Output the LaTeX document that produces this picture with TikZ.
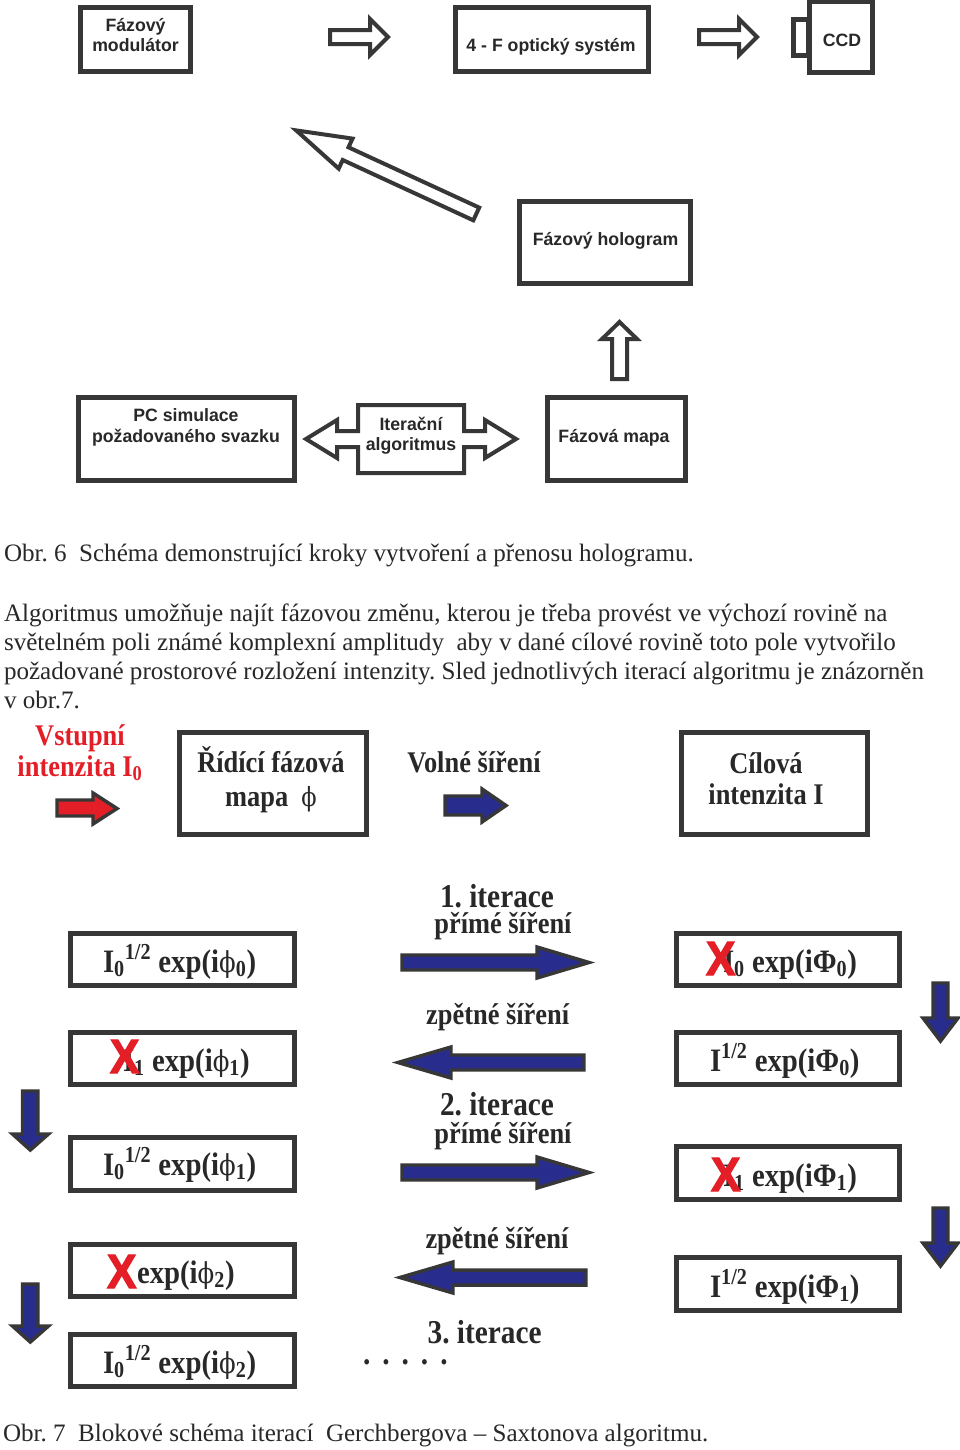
\documentclass[tikz,border=0pt]{standalone}
\usepackage{fontspec}
\setmainfont{Liberation Serif}
\newfontfamily\bodyf{Liberation Serif}[FakeStretch=1.0]
\newfontfamily\boldf{Liberation Serif}[FakeStretch=0.88]
\newfontfamily\sansf{Liberation Sans}[FakeStretch=0.99]
\newfontfamily\xf{Liberation Sans}[FakeStretch=0.92, FakeBold=2.5]
\newfontfamily\phif{DejaVu Serif}[FakeStretch=0.85, Scale=0.88]
\newcommand\vphi{{\phif\mdseries ϕ}}
\definecolor{dg}{RGB}{55,55,55}
\definecolor{tg}{RGB}{40,40,40}
\definecolor{xred}{RGB}{228,30,38}
\definecolor{ablue}{RGB}{40,44,140}
\newcommand\fsBody{\fontsize{18.8}{22}\selectfont}
\newcommand\fsSans{\fontsize{13.4}{16}\selectfont}
\newcommand\fsHead{\fontsize{22.5}{26}\selectfont}
\newcommand\fsIter{\fontsize{25}{29}\selectfont}
\newcommand\fsForm{\fontsize{24.5}{29}\selectfont}
\newcommand\fsX{\fontsize{36}{40}\selectfont}
\tikzset{
  pbox/.style 2 args={draw=dg, line width=3.75pt, inner sep=0pt, outer sep=0pt,
     minimum width=#1*0.75pt, minimum height=#2*0.75pt},
  hollow/.style={draw=dg, fill=white, line width=3pt, line join=miter},
  bluearr/.style={draw=dg, fill=ablue, line width=2.6pt, line join=miter},
  redarr/.style={draw=dg, fill=xred, line width=2.6pt, line join=miter},
  lbl/.style={inner sep=0pt, outer sep=0pt, anchor=base, text=tg},
  sanslbl/.style={lbl, font=\sansf\bfseries\fsSans},
  bodylbl/.style={lbl, anchor=base west, font=\bodyf\fsBody},
  headlbl/.style={lbl, font=\boldf\bfseries\fsHead},
  iterlbl/.style={lbl, font=\boldf\bfseries\fsIter},
  formlbl/.style={lbl, anchor=base west, font=\boldf\bfseries\fsForm},
  xmark/.style={inner sep=0pt, outer sep=0pt, anchor=base west, text=xred, font=\xf\bfseries\fsX}
}
\frenchspacing
\begin{document}
\begin{tikzpicture}[x=0.75pt,y=-0.75pt]
\useasboundingbox (0,0) rectangle (960,1450);
\fill[white] (0,0) rectangle (960,1450);

% ---------- Obr. 6 ----------
\node[pbox={110}{64}] (mod) at (135.5,39.5) {};
\node[sanslbl] (modA) at (135.5,31) {Fázový};
\node[sanslbl] (modB) at (135.5,51) {modulátor};

\draw[hollow] (330,30) -- (370,30) -- (370,19) -- (388,37) -- (370,55) -- (370,44) -- (330,44) -- cycle;

\node[pbox={193}{64}] (fourf) at (552,39.5) {};
\node[sanslbl] (fourfT) at (551,51.5) {4 - F optický systém};

\draw[hollow] (699,30) -- (739,30) -- (739,19) -- (757,37) -- (739,55) -- (739,44) -- (699,44) -- cycle;

\node[pbox={15}{36}] (ccdS) at (801,37.5) {};
\node[pbox={63}{71}, fill=white] (ccd) at (841,37) {};
\node[sanslbl] (ccdT) at (842,46.5) {CCD};

\draw[hollow] (296.2,130.4) -- (352.5,138.6) -- (348.5,147.3) -- (479.2,207.6) -- (473.3,220.3) -- (342.7,160.0) -- (338.7,168.6) -- cycle;

\node[pbox={171}{82}] (holo) at (605,242.5) {};
\node[sanslbl] (holoT) at (605.5,245.5) {Fázový hologram};

\draw[hollow] (619.5,322) -- (637,339) -- (627,339) -- (627,379) -- (612,379) -- (612,339) -- (602,339) -- cycle;

\node[pbox={216}{83}] (pc) at (186.5,439) {};
\node[sanslbl] (pcA) at (186,421) {PC simulace};
\node[sanslbl] (pcB) at (186,442) {požadovaného svazku};

\draw[hollow] (306,439) -- (337,420) -- (337,431) -- (358,431) -- (358,405) -- (464,405) -- (464,431) -- (485,431) -- (485,420) -- (516,439) -- (485,458) -- (485,447) -- (464,447) -- (464,473) -- (358,473) -- (358,447) -- (337,447) -- (337,458) -- cycle;
\node[sanslbl] (itA) at (411,430) {Iterační};
\node[sanslbl] (itB) at (411,450) {algoritmus};

\node[pbox={138}{83}] (fmap) at (616.5,439) {};
\node[sanslbl] (fmapT) at (614,442) {Fázová mapa};

\node[bodylbl] (cap6) at (4,561) {Obr. 6\ \ Schéma demonstrující kroky vytvoření a přenosu hologramu.};
\node[bodylbl] (p1) at (4,621) {Algoritmus umožňuje najít fázovou změnu, kterou je třeba provést ve výchozí rovině na};
\node[bodylbl] (p2) at (4,650) {světelném poli známé komplexní amplitudy\ \ aby v dané cílové rovině toto pole vytvořilo};
\node[bodylbl] (p3) at (4,679) {požadované prostorové rozložení intenzity. Sled jednotlivých iterací algoritmu je znázorněn};
\node[bodylbl] (p4) at (4,708) {v obr.7.};

% ---------- Obr. 7 header ----------
\node[headlbl, text=xred] (vst1) at (80,745) {Vstupní};
\node[headlbl, text=xred] (vst2) at (80,776) {intenzita I\textsubscript{0}};
\draw[redarr] (57,800) -- (93,800) -- (93,793) -- (117,808.5) -- (93,824) -- (93,816) -- (57,816) -- cycle;

\node[pbox={187}{102}] (ridici) at (273,783.5) {};
\node[headlbl] (ridA) at (271,772) {Řídící fázová};
\node[headlbl] (ridB) at (271,806) {mapa\ \ \vphi};

\node[headlbl] (volne) at (474,772) {Volné šíření};
\draw[bluearr] (445,796) -- (482,796) -- (482,789) -- (506,805.5) -- (482,822) -- (482,815) -- (445,815) -- cycle;

\node[pbox={186}{102}] (cilova) at (774.5,783.5) {};
\node[headlbl] (cilA) at (766,773) {Cílová};
\node[headlbl] (cilB) at (766,804) {intenzita I};

% ---------- Obr. 7 iterations ----------
\node[pbox={224}{52}] (L1) at (182.5,959.5) {};
\node[pbox={224}{52}] (L2) at (182.5,1058.5) {};
\node[pbox={224}{53}] (L3) at (182.5,1164) {};
\node[pbox={224}{52}] (L4) at (182.5,1270.5) {};
\node[pbox={224}{52}] (L5) at (182.5,1360.5) {};
\node[pbox={223}{52}] (R1) at (788,959.5) {};
\node[pbox={223}{52}] (R2) at (788,1058.5) {};
\node[pbox={223}{53}] (R3) at (788,1173) {};
\node[pbox={223}{53}] (R4) at (788,1284) {};

\node[formlbl] (L1T) at (103,972) {I\textsubscript{0}\textsuperscript{1/2} exp(i\vphi\textsubscript{0})};
\node[formlbl] (L2T) at (123,1071) {I\textsubscript{1} exp(i\vphi\textsubscript{1})};
\node[xmark] (L2X) at (110,1073) {X};
\node[formlbl] (L3T) at (103,1175) {I\textsubscript{0}\textsuperscript{1/2} exp(i\vphi\textsubscript{1})};
\node[formlbl] (L4T) at (137,1283) {exp(i\vphi\textsubscript{2})};
\node[xmark] (L4X) at (107,1288) {X};
\node[formlbl] (L5T) at (103,1373) {I\textsubscript{0}\textsuperscript{1/2} exp(i\vphi\textsubscript{2})};

\node[formlbl] (R1T) at (723,972) {I\textsubscript{0} exp(iΦ\textsubscript{0})};
\node[xmark] (R1X) at (706,975) {X};
\node[formlbl] (R2T) at (710,1071) {I\textsuperscript{1/2} exp(iΦ\textsubscript{0})};
\node[formlbl] (R3T) at (723,1186) {I\textsubscript{1} exp(iΦ\textsubscript{1})};
\node[xmark] (R3X) at (711,1191) {X};
\node[formlbl] (R4T) at (710,1297) {I\textsuperscript{1/2} exp(iΦ\textsubscript{1})};

\node[iterlbl] (it1) at (497,907) {1. iterace};
\node[headlbl] (pr1) at (503,933) {přímé šíření};
\draw[bluearr] (402,955) -- (537,955) -- (537,947) -- (589,962.5) -- (537,978) -- (537,970) -- (402,970) -- cycle;
\node[headlbl] (zp1) at (497.7,1024) {zpětné šíření};
\draw[bluearr] (398,1062.5) -- (451,1047) -- (451,1055) -- (584,1055) -- (584,1070) -- (451,1070) -- (451,1078) -- cycle;
\node[iterlbl] (it2) at (497,1115) {2. iterace};
\node[headlbl] (pr2) at (503,1143) {přímé šíření};
\draw[bluearr] (402,1165) -- (537,1165) -- (537,1157) -- (589,1172.5) -- (537,1188) -- (537,1180) -- (402,1180) -- cycle;
\node[headlbl] (zp2) at (497,1248) {zpětné šíření};
\draw[bluearr] (400,1277.5) -- (453,1262) -- (453,1270) -- (586,1270) -- (586,1285) -- (453,1285) -- (453,1293) -- cycle;
\node[iterlbl] (it3) at (484.6,1343) {3. iterace};
\node[iterlbl, anchor=base west] (dots) at (363,1364) {.\hspace{9pt}.\hspace{9pt}.\hspace{9pt}.\hspace{9pt}.};

% down arrows
\draw[bluearr] (22.5,1091) -- (38,1091) -- (38,1134) -- (48.5,1134) -- (30.3,1150) -- (12.5,1134) -- (22.5,1134) -- cycle;
\draw[bluearr] (22.5,1284) -- (38,1284) -- (38,1326) -- (48.5,1326) -- (30.3,1342) -- (12.5,1326) -- (22.5,1326) -- cycle;
\draw[bluearr] (933,983) -- (948,983) -- (948,1018) -- (958,1018) -- (940.5,1041) -- (923,1018) -- (933,1018) -- cycle;
\draw[bluearr] (933,1208) -- (948,1208) -- (948,1243) -- (958,1243) -- (940.5,1266) -- (923,1243) -- (933,1243) -- cycle;

\node[bodylbl] (cap7) at (3,1441) {Obr. 7\ \ Blokové schéma iterací\ \ Gerchbergova – Saxtonova algoritmu.};
\end{tikzpicture}
\end{document}
